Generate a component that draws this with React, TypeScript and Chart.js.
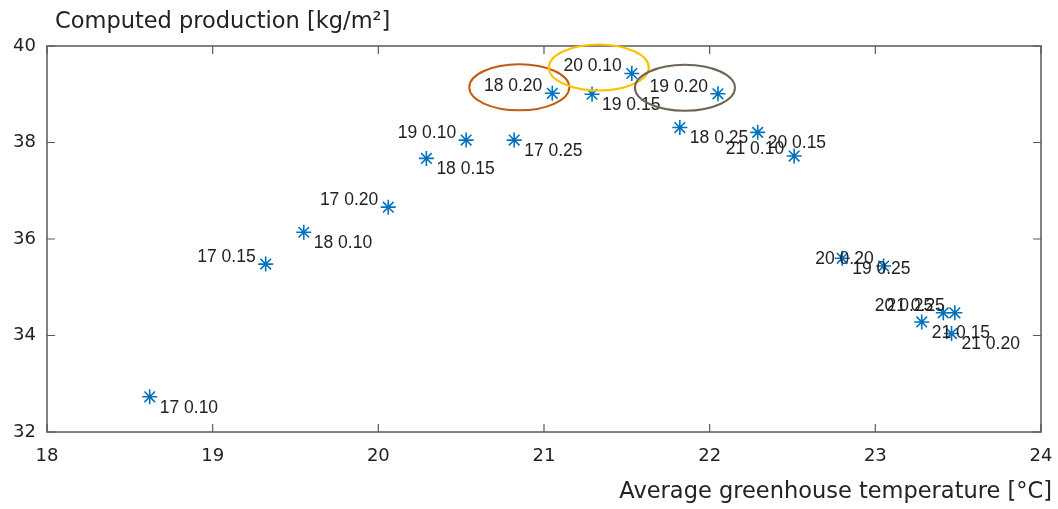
import React, { useEffect, useRef } from "react";
import { Chart, registerables } from "chart.js";

Chart.register(...registerables);

const labels: string[] = [
  "17 0.10", "17 0.15", "18 0.10", "17 0.20", "18 0.15",
  "19 0.10", "17 0.25", "18 0.20", "19 0.15", "20 0.10",
  "19 0.20", "18 0.25", "20 0.15", "21 0.10", "19 0.25",
  "20 0.20", "21 0.15", "20 0.25", "21 0.25", "21 0.20",
];
const temperatures: number[] = [
  18.62, 19.32, 19.55, 20.06, 20.29,
  20.53, 20.82, 21.05, 21.29, 21.53,
  22.05, 21.82, 22.29, 22.51, 22.80,
  23.05, 23.28, 23.41, 23.48, 23.46,
];
const production: number[] = [
  32.73, 35.48, 36.14, 36.66, 37.67,
  38.05, 38.05, 39.02, 39.00, 39.43,
  39.01, 38.31, 38.21, 37.72, 35.60,
  35.44, 34.28, 34.47, 34.47, 34.04,
];
// "lu" = label left/above the marker, "rd" = label right/below
const labelSide: string[] = [
  "rd", "lu", "rd", "lu", "rd",
  "lu", "rd", "lu", "rd", "lu",
  "lu", "rd", "rd", "lu", "rd",
  "lu", "rd", "lu", "lu", "rd",
];
const highlighted: string[] = ["18 0.20", "20 0.10", "19 0.20"];
const highlightColors: string[] = ["#C55A11", "#FFC000", "#6F6457"];

const xTicks: number[] = [18, 19, 20, 21, 22, 23, 24];
const yTicks: number[] = [32, 34, 36, 38, 40];

const xTitle = "Average greenhouse temperature [°C]";
const yTitle = "Computed production [kg/m²]";

const AXIS_COLOR = "#5a5a5a";
const TEXT_COLOR = "#222222";

export default function App() {
  const ref = useRef<HTMLCanvasElement | null>(null);

  useEffect(() => {
    if (!ref.current) return;

    const decor = {
      id: "decor",
      afterDatasetsDraw(chart: any) {
        const ctx = chart.ctx;
        const area = chart.chartArea;
        const xs = chart.scales.x;
        const ys = chart.scales.y;
        ctx.save();
        // box
        ctx.strokeStyle = AXIS_COLOR;
        ctx.lineWidth = 1.5;
        ctx.strokeRect(area.left, area.top, area.right - area.left, area.bottom - area.top);
        // inward ticks
        const tl = 8;
        ctx.lineWidth = 1.2;
        ctx.beginPath();
        xTicks.forEach((v) => {
          const px = xs.getPixelForValue(v);
          ctx.moveTo(px, area.bottom);
          ctx.lineTo(px, area.bottom - tl);
          ctx.moveTo(px, area.top);
          ctx.lineTo(px, area.top + tl);
        });
        yTicks.forEach((v) => {
          const py = ys.getPixelForValue(v);
          ctx.moveTo(area.left, py);
          ctx.lineTo(area.left + tl, py);
          ctx.moveTo(area.right, py);
          ctx.lineTo(area.right - tl, py);
        });
        ctx.stroke();

        // point labels
        const meta = chart.getDatasetMeta(0);
        ctx.font = "17.5px 'Liberation Sans', Arial, sans-serif";
        ctx.fillStyle = TEXT_COLOR;
        ctx.textBaseline = "middle";
        meta.data.forEach((el: any, i: number) => {
          const px = el.x;
          const py = el.y;
          if (labelSide[i] === "lu") {
            ctx.textAlign = "right";
            ctx.fillText(labels[i], px - 10, py - 7);
          } else {
            ctx.textAlign = "left";
            ctx.fillText(labels[i], px + 10, py + 11);
          }
        });

        // highlight ellipses
        highlighted.forEach((name, k) => {
          const i = labels.indexOf(name);
          if (i < 0) return;
          const el = meta.data[i];
          ctx.beginPath();
          ctx.strokeStyle = highlightColors[k];
          ctx.lineWidth = 2;
          ctx.ellipse(el.x - 33, el.y - 6, 50, 23, 0, 0, Math.PI * 2);
          ctx.stroke();
        });

        // axis titles
        ctx.font = "22.5px 'DejaVu Sans', Verdana, sans-serif";
        ctx.fillStyle = TEXT_COLOR;
        ctx.textBaseline = "middle";
        ctx.textAlign = "left";
        ctx.fillText(yTitle, 55, 22);
        ctx.textAlign = "right";
        ctx.fillText(xTitle, 1052, 492);
        ctx.restore();
      },
    };

    const chart = new Chart(ref.current, {
      type: "scatter",
      data: {
        datasets: [
          {
            data: temperatures.map((t, i) => ({ x: t, y: production[i] })),
            pointStyle: "star",
            pointRadius: 7.5,
            pointHoverRadius: 7.5,
            pointBorderWidth: 1.6,
            borderColor: "#0072BD",
            backgroundColor: "#0072BD",
            showLine: false,
          },
        ],
      },
      options: {
        animation: false,
        responsive: false,
        maintainAspectRatio: false,
        layout: { padding: { left: 0, top: 46, right: 17, bottom: 0 } },
        plugins: {
          legend: { display: false },
          tooltip: { enabled: false },
          title: { display: false },
        },
        scales: {
          x: {
            type: "linear",
            min: 18,
            max: 24,
            afterBuildTicks: (s: any) => {
              s.ticks = xTicks.map((v) => ({ value: v }));
            },
            afterFit: (s: any) => {
              s.height = 77;
              s.paddingLeft = 0;
              s.paddingRight = 0;
            },
            grid: { display: false, drawTicks: false },
            border: { display: false },
            ticks: {
              color: TEXT_COLOR,
              padding: 14,
              font: { family: "'DejaVu Sans', Verdana, sans-serif", size: 18 },
              maxRotation: 0,
            },
          },
          y: {
            type: "linear",
            min: 32,
            max: 40,
            afterBuildTicks: (s: any) => {
              s.ticks = yTicks.map((v) => ({ value: v }));
            },
            afterFit: (s: any) => {
              s.width = 47;
              s.paddingTop = 0;
              s.paddingBottom = 0;
            },
            grid: { display: false, drawTicks: false },
            border: { display: false },
            ticks: {
              color: TEXT_COLOR,
              padding: 11,
              font: { family: "'DejaVu Sans', Verdana, sans-serif", size: 18 },
            },
          },
        },
      },
      plugins: [decor],
    });

    return () => chart.destroy();
  }, []);

  return (
    <div style={{ position: "fixed", left: 0, top: 0, width: 1058, height: 509, background: "#fff" }}>
      <canvas ref={ref} width={1058} height={509} style={{ width: 1058, height: 509 }} />
    </div>
  );
}
